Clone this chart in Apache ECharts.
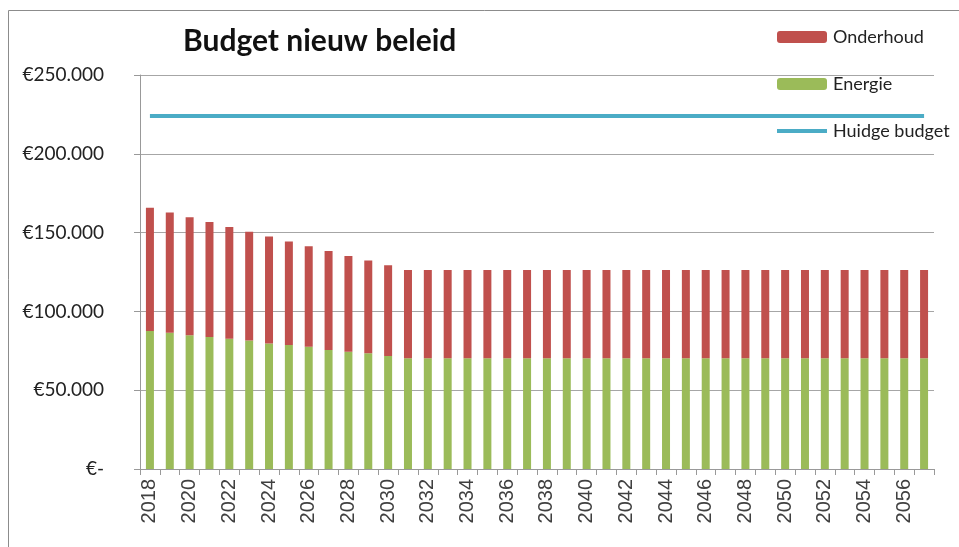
<!DOCTYPE html>
<html>
<head>
<meta charset="utf-8">
<script src="https://cdn.jsdelivr.net/npm/echarts@6/dist/echarts.min.js"></script>
<style>
  html, body { margin: 0; padding: 0; background: #fff; }
  #chart { width: 959px; height: 547px; }
</style>
</head>
<body>
<div id="chart"></div>
<script>
  // jaren 2018 t/m 2057
  var years = ['2018', '2019', '2020', '2021', '2022', '2023', '2024', '2025', '2026', '2027',
    '2028', '2029', '2030', '2031', '2032', '2033', '2034', '2035', '2036', '2037',
    '2038', '2039', '2040', '2041', '2042', '2043', '2044', '2045', '2046', '2047',
    '2048', '2049', '2050', '2051', '2052', '2053', '2054', '2055', '2056', '2057']

  var energie = [87500, 86500, 84800, 83700, 82700, 81600, 79700, 78700, 77600, 75500,
    74400, 73400, 71700, 70300, 70300, 70300, 70300, 70300, 70300, 70300,
    70300, 70300, 70300, 70300, 70300, 70300, 70300, 70300, 70300, 70300,
    70300, 70300, 70300, 70300, 70300, 70300, 70300, 70300, 70300, 70300]

  var onderhoud = [78300, 76300, 74900, 73000, 70800, 69000, 67800, 65600, 63700, 62800,
    60800, 58900, 57600, 56000, 56000, 56000, 56000, 56000, 56000, 56000,
    56000, 56000, 56000, 56000, 56000, 56000, 56000, 56000, 56000, 56000,
    56000, 56000, 56000, 56000, 56000, 56000, 56000, 56000, 56000, 56000]

  var huidigBudget = [224000, 224000, 224000, 224000, 224000, 224000, 224000, 224000, 224000, 224000,
    224000, 224000, 224000, 224000, 224000, 224000, 224000, 224000, 224000, 224000,
    224000, 224000, 224000, 224000, 224000, 224000, 224000, 224000, 224000, 224000,
    224000, 224000, 224000, 224000, 224000, 224000, 224000, 224000, 224000, 224000]

  function euro(v) {
    if (v === 0) return '€-'
    return '€' + String(v).replace(/\B(?=(\d{3})+(?!\d))/g, '.')
  }

  var dom = echarts.init(document.getElementById('chart'))
  var option = {
    animation: false,
    graphic: [{
      type: 'rect',
      shape: { x: 8.5, y: 10.5, width: 980, height: 560 },
      style: { fill: 'none', stroke: '#8c8c8c', lineWidth: 1 },
      z: -1
    }],
    title: {
      text: 'Budget nieuw beleid',
      left: 178,
      top: 21,
      textStyle: {
        fontFamily: 'Lato',
        fontWeight: 'bold',
        fontSize: 30,
        color: '#111'
      }
    },
    legend: {
      orient: 'vertical',
      left: 770,
      top: 23,
      itemWidth: 50,
      itemHeight: 12,
      itemGap: 29,
      data: [
        'Onderhoud',
        'Energie',
        { name: 'Huidge budget', itemStyle: { opacity: 0 }, lineStyle: { width: 4 } }
      ],
      textStyle: {
        fontFamily: 'Lato',
        fontSize: 18,
        color: '#222',
        padding: [0, 0, 0, 1]
      }
    },
    grid: {
      left: 140,
      right: 25,
      top: 75,
      bottom: 78
    },
    xAxis: {
      type: 'category',
      data: years,
      axisLine: { lineStyle: { color: '#999', width: 1 } },
      axisTick: { show: true, length: 6, interval: 0, lineStyle: { color: '#999' } },
      axisLabel: {
        interval: 1,
        rotate: 90,
        margin: 10,
        fontFamily: 'Liberation Sans',
        fontSize: 20,
        color: '#404040'
      },
      splitLine: { show: false }
    },
    yAxis: {
      type: 'value',
      min: 0,
      max: 250000,
      interval: 50000,
      axisLine: { show: true, lineStyle: { color: '#999', width: 1 } },
      axisTick: { show: true, length: 6, lineStyle: { color: '#999' } },
      axisLabel: {
        margin: 36,
        fontFamily: 'Lato',
        fontSize: 19,
        color: '#222',
        formatter: euro
      },
      splitLine: { lineStyle: { color: '#a6a6a6', width: 1 } }
    },
    series: [{
      name: 'Energie',
      type: 'bar',
      stack: 'budget',
      barWidth: 8,
      data: energie,
      itemStyle: { color: '#9bbb59' }
    }, {
      name: 'Onderhoud',
      type: 'bar',
      stack: 'budget',
      barWidth: 8,
      data: onderhoud,
      itemStyle: { color: '#c0504d' }
    }, {
      name: 'Huidge budget',
      type: 'line',
      data: huidigBudget,
      symbol: 'none',
      lineStyle: { color: '#4bacc6', width: 4 },
      itemStyle: { color: '#4bacc6' }
    }]
  }
  dom.setOption(option)
</script>
</body>
</html>
